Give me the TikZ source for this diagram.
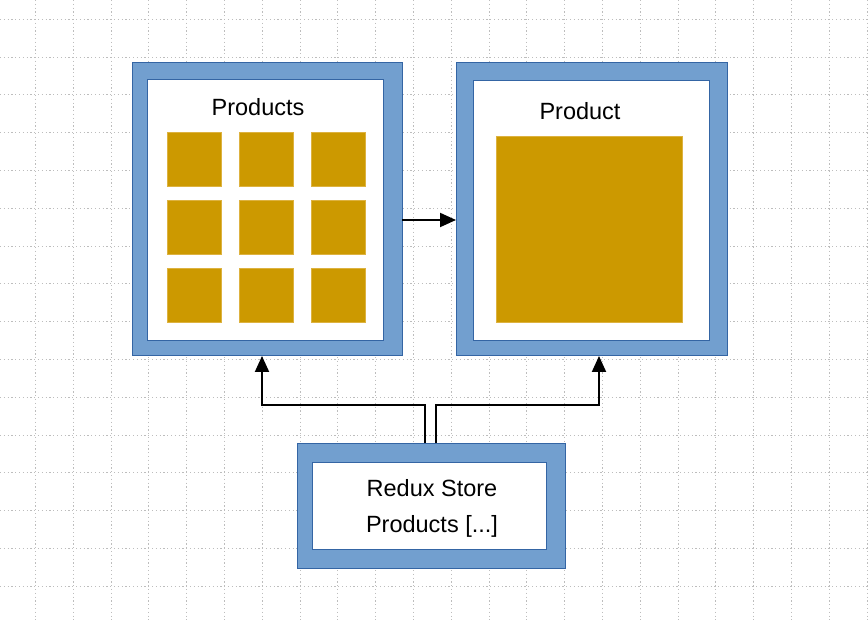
\documentclass[tikz,border=0pt]{standalone}
\usepackage{fontspec}
\setmainfont{Liberation Sans}
\usetikzlibrary{arrows.meta}
\definecolor{skyblue}{HTML}{729FCF}
\definecolor{darkblue}{HTML}{3465A4}
\definecolor{gold}{HTML}{CC9900}
\definecolor{goldedge}{HTML}{DDB240}
\definecolor{gridgray}{HTML}{BDBDBD}
\tikzset{
  outerbox/.style={rectangle, fill=skyblue, draw=darkblue, line width=1pt, inner sep=0pt, outer sep=0pt},
  innerbox/.style={rectangle, fill=white, draw=darkblue, line width=1pt, inner sep=0pt, outer sep=0pt},
  goldbox/.style={rectangle, fill=gold, draw=goldedge, line width=0.8pt, inner sep=0pt, outer sep=0pt},
  smallgold/.style={goldbox, minimum width=54pt, minimum height=54pt},
  label/.style={font=\fontsize{23.5}{36.5}\selectfont, align=center, inner sep=0pt},
  arr/.style={line width=2pt, -{Triangle[length=16pt,width=14pt]}},
  gridline/.style={gridgray, line width=1pt, dash pattern=on 1.2pt off 2.6pt}
}
\begin{document}
\begin{tikzpicture}[x=1pt,y=-1pt]
\useasboundingbox (0,0) rectangle (868,620);
\fill[white] (0,0) rectangle (868,620);
% grid
\foreach \k in {0,...,22} {\draw[gridline] ({35.5+37.8*\k},0) -- ({35.5+37.8*\k},620);}
\foreach \k in {0,...,15} {\draw[gridline] (0,{19.3+37.8*\k}) -- (868,{19.3+37.8*\k});}
% left box
\node[outerbox, minimum width=270pt, minimum height=293pt] (L) at (267,209.5) {};
\node[innerbox, minimum width=236pt, minimum height=261pt] (Li) at (265,210.5) {};
\node[label] (Lt) at (258,107) {Products};
\foreach \i/\x in {1/194,2/266,3/338} {
  \foreach \j/\y in {1/159,2/227.5,3/295.5} {
    \node[smallgold] (s\i\j) at (\x,\y) {};
  }
}
% right box
\node[outerbox, minimum width=271pt, minimum height=293pt] (R) at (591.5,209.5) {};
\node[innerbox, minimum width=236pt, minimum height=260pt] (Ri) at (591,210.6) {};
\node[label] (Rt) at (580,111) {Product};
\node[goldbox, minimum width=186pt, minimum height=186pt] (big) at (589,229) {};
% store
\node[outerbox, minimum width=268pt, minimum height=125pt] (S) at (431,505.5) {};
\node[innerbox, minimum width=234pt, minimum height=87pt] (Si) at (429,505.5) {};
\node[label] (St) at (432,508.5) {Redux Store\\Products [...]};
% connectors
\coordinate (h) at (0,220);
\coordinate (jl) at (262,405);
\coordinate (jr) at (599,405);
\draw[arr] (L.east |- h) -- (R.west |- h);
\draw[arr] ([xshift=-6pt]S.north) |- (jl) -- (jl |- L.south);
\draw[arr] ([xshift=5pt]S.north) |- (jr) -- (jr |- R.south);
\end{tikzpicture}
\end{document}
